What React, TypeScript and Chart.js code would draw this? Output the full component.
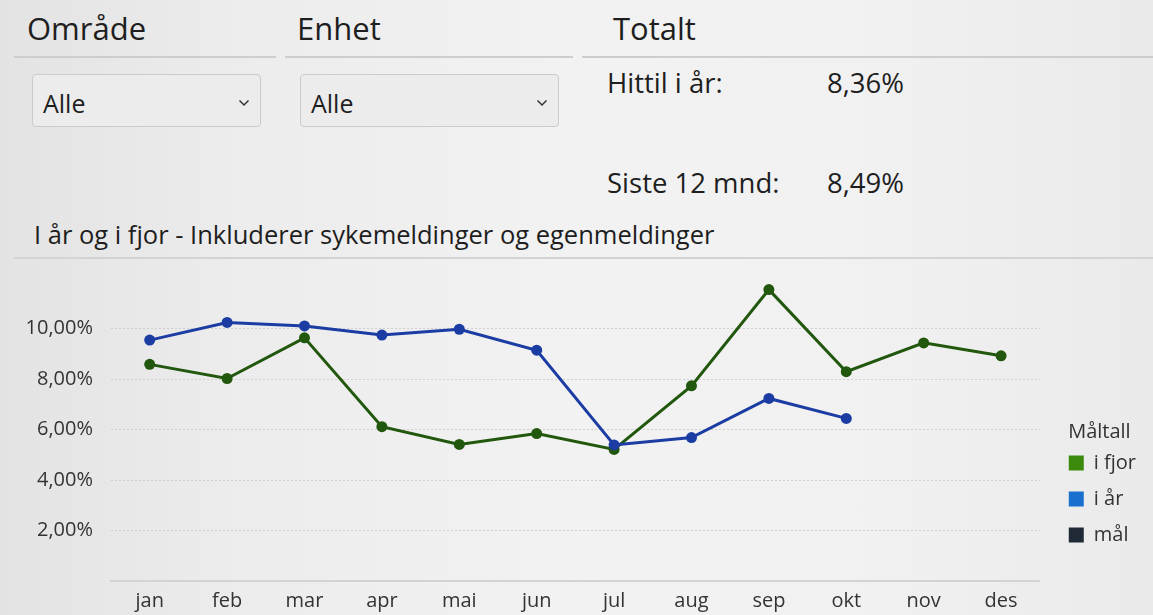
import React, { useEffect, useRef } from "react";
import { Chart, registerables } from "chart.js";

Chart.register(...registerables);

// ---- data ----
const months = ["jan", "feb", "mar", "apr", "mai", "jun", "jul", "aug", "sep", "okt", "nov", "des"];
const iFjor = [8.58, 8.02, 9.63, 6.11, 5.41, 5.84, 5.21, 7.73, 11.54, 8.29, 9.43, 8.92];
const iAar: (number | null)[] = [9.54, 10.24, 10.1, 9.74, 9.97, 9.14, 5.39, 5.68, 7.23, 6.44, null, null];
const maal: (number | null)[] = [null, null, null, null, null, null, null, null, null, null, null, null];
const yTicks = [2, 4, 6, 8, 10];
const seriesNames = ["i fjor", "i år", "mål"];
const lineColors = ["#22570e", "#1b3da3", "#1f2a36"];
const legendColors = ["#3b8a0c", "#1a70cf", "#1f2a36"];
const legendTitle = "Måltall";

const hittilValue = "8,36%";
const siste12Value = "8,49%";

const FONT = "'Open Sans', 'Noto Sans', sans-serif";
const TEXT = "#1e1e1e";

function T(props: { x: number; base: number; size: number; children: React.ReactNode; color?: string }) {
  const { x, base, size, children, color } = props;
  return (
    <div
      style={{
        position: "absolute",
        left: x,
        top: base - 0.888 * size,
        fontSize: size,
        lineHeight: 1,
        whiteSpace: "nowrap",
        color: color || TEXT,
      }}
    >
      {children}
    </div>
  );
}

function Dropdown(props: { x: number; w: number }) {
  const { x, w } = props;
  return (
    <div
      style={{
        position: "absolute",
        left: x,
        top: 74,
        width: w,
        height: 53,
        boxSizing: "border-box",
        border: "1px solid #cbcbcb",
        borderRadius: 4,
        background: "#ececec",
      }}
    >
      <T x={10} base={38} size={25}>Alle</T>
      <svg
        style={{ position: "absolute", left: w - 24, top: 24 }}
        width="12"
        height="8"
        viewBox="0 0 12 8"
      >
        <polyline points="1.5,1.5 6,6 10.5,1.5" fill="none" stroke="#333" strokeWidth="1.5" />
      </svg>
    </div>
  );
}

function LineChart() {
  const ref = useRef<HTMLCanvasElement | null>(null);
  useEffect(() => {
    if (!ref.current) return;
    const seriesData = [iFjor, iAar, maal];
    const chart = new Chart(ref.current, {
      type: "line",
      data: {
        labels: months,
        datasets: seriesNames.map((name, i) => ({
          label: name,
          data: seriesData[i],
          borderColor: lineColors[i],
          backgroundColor: lineColors[i],
          pointBackgroundColor: lineColors[i],
          pointBorderColor: lineColors[i],
          borderWidth: 3,
          pointRadius: 5.5,
          pointBorderWidth: 0,
          tension: 0,
          spanGaps: false,
          order: i === 1 ? 0 : i === 0 ? 1 : 2,
        })),
      },
      options: {
        animation: false,
        responsive: true,
        maintainAspectRatio: false,
        layout: { padding: { top: 16, right: 7, bottom: 0, left: 0 } },
        plugins: {
          tooltip: { enabled: false },
          legend: {
            position: "right",
            align: "start",
            title: {
              display: true,
              text: legendTitle,
              color: "#333",
              font: { family: FONT, size: 20 },
              padding: { top: 144, bottom: -9 },
            },
            labels: {
              boxWidth: 15,
              boxHeight: 15,
              padding: 16,
              color: "#333",
              font: { family: FONT, size: 20 },
              sort: (a: any, b: any) => a.datasetIndex - b.datasetIndex,
              generateLabels: (chart: any) =>
                chart.data.datasets.map((ds: any, i: number) => ({
                  text: ds.label,
                  fillStyle: legendColors[i],
                  strokeStyle: legendColors[i],
                  lineWidth: 0,
                  hidden: false,
                  datasetIndex: i,
                  fontColor: "#333",
                })),
            },
          },
        },
        scales: {
          x: {
            type: "category",
            offset: true,
            grid: { display: false, drawTicks: false },
            border: { display: true, color: "#d3d3d3", width: 2 },
            ticks: { color: "#333", font: { family: FONT, size: 20 }, padding: 8, maxRotation: 0 },
            afterFit: (s: any) => {
              s.height = 34;
              s.paddingLeft = 0;
              s.paddingRight = 0;
            },
          },
          y: {
            type: "linear",
            min: 0,
            max: 12,
            grid: { color: "#cfcfcf", lineWidth: 1, drawTicks: false },
            border: { display: false, dash: [2, 2] },
            ticks: {
              color: "#333",
              font: { family: FONT, size: 20 },
              padding: 18,
              callback: (v: any) => Number(v).toFixed(2).replace(".", ",") + "%",
            },
            afterBuildTicks: (s: any) => {
              s.ticks = yTicks.map((v) => ({ value: v }));
            },
            afterFit: (s: any) => {
              s.width = 111;
              s.paddingTop = 0;
              s.paddingBottom = 0;
            },
          },
          spacer: {
            type: "linear",
            position: "right",
            display: true,
            grid: { display: false, drawTicks: false },
            border: { display: false },
            ticks: { display: false },
            afterFit: (s: any) => {
              s.width = 13;
              s.paddingTop = 0;
              s.paddingBottom = 0;
            },
          },
        },
      },
    } as any);
    return () => chart.destroy();
  }, []);
  return <canvas ref={ref} />;
}

export default function App() {
  return (
    <div
      style={{
        position: "absolute",
        left: 0,
        top: 0,
        width: 1153,
        height: 615,
        overflow: "hidden",
        fontFamily: FONT,
        background:
          "linear-gradient(90deg, #e3e3e3 0%, #ececec 20%, #f2f2f2 50%, #f1f1f1 75%, #eaeaea 100%)",
      }}
    >
      {/* header row */}
      <T x={27} base={41} size={31}>Område</T>
      <T x={297} base={41} size={31}>Enhet</T>
      <T x={613} base={41} size={31}>Totalt</T>
      <div style={{ position: "absolute", left: 14, top: 56, width: 262, height: 2, background: "#cdcdcd" }} />
      <div style={{ position: "absolute", left: 285, top: 56, width: 288, height: 2, background: "#cdcdcd" }} />
      <div style={{ position: "absolute", left: 582, top: 56, width: 571, height: 2, background: "#cdcdcd" }} />

      <Dropdown x={32} w={229} />
      <Dropdown x={300} w={259} />

      <T x={607} base={93} size={27.5}>Hittil i år:</T>
      <T x={827} base={93} size={27.5}>{hittilValue}</T>
      <T x={607} base={193} size={27.5}>Siste 12 mnd:</T>
      <T x={827} base={193} size={27.5}>{siste12Value}</T>

      <T x={34} base={245} size={25.5}>I år og i fjor - Inkluderer sykemeldinger og egenmeldinger</T>
      <div style={{ position: "absolute", left: 14, top: 257, width: 1139, height: 2, background: "#d3d3d3" }} />

      <div style={{ position: "absolute", left: 0, top: 262, width: 1153, height: 353 }}>
        <LineChart />
      </div>
    </div>
  );
}
